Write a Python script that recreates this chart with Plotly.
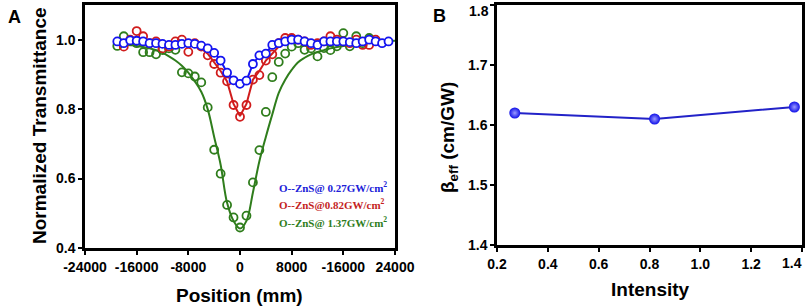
import plotly.graph_objects as go

# ---------------- Panel A data ----------------
blue_z = [-19000, -18000, -17000, -16000, -15000, -14000, -13000, -12000, -11000, -10000,
          -9000, -8000, -7000, -6000, -5000, -4000, -3000, -2000, -1000, 0,
          1000, 2000, 3000, 4000, 5000, 6000, 7000, 8000, 9000, 10000,
          11000, 12000, 13000, 14000, 15000, 16000, 17000, 18000, 19000, 20000,
          21000, 22000, 23000]
blue_t = [0.995, 0.99, 0.998, 0.997, 0.995, 0.99, 0.99, 0.988, 0.985, 0.985,
          0.988, 0.99, 0.988, 0.983, 0.975, 0.962, 0.94, 0.905, 0.883, 0.873,
          0.882, 0.93, 0.955, 0.96, 0.985, 0.99, 0.995, 1.0, 1.0, 0.995,
          0.99, 0.985, 0.995, 0.995, 0.995, 0.995, 0.993, 0.99, 0.995, 1.0,
          0.995, 0.99, 0.995]

red_z = [-18000, -17000, -16000, -15000, -14000, -13000, -12000, -11000, -10000, -9000,
         -8000, -7000, -6000, -5000, -4000, -3000, -2000, -1000, 0, 1000,
         2000, 3000, 4000, 5000, 6000, 7000, 8000, 9000, 10000, 11000,
         12000, 13000, 14000, 15000, 16000, 17000, 18000, 19000, 20000, 21000]
red_t = [0.98, 1.0, 1.025, 1.01, 0.99, 0.995, 0.975, 0.98, 0.995, 1.0,
         0.965, 0.99, 0.98, 0.955, 0.93, 0.905, 0.88, 0.812, 0.778, 0.812,
         0.885, 0.898, 0.94, 0.958, 0.99, 1.005, 1.005, 1.0, 0.995, 0.985,
         0.99, 0.995, 1.01, 1.0, 0.995, 0.99, 1.0, 0.985, 0.985, 1.0]
red_fit = [0.99, 0.995, 1.0, 1.0, 0.995, 0.993, 0.99, 0.99, 0.992, 0.99,
           0.985, 0.982, 0.975, 0.96, 0.935, 0.91, 0.88, 0.815, 0.78, 0.815,
           0.885, 0.91, 0.94, 0.96, 0.98, 0.99, 0.995, 0.997, 0.996, 0.995,
           0.995, 0.996, 0.998, 0.998, 0.997, 0.995, 0.995, 0.993, 0.993, 0.995]

green_z = [-19000, -18000, -17000, -16000, -15000, -14000, -13000, -12000, -11000, -10000,
           -9000, -8000, -7000, -6000, -5000, -4000, -3000, -2000, -1000, 0,
           1000, 2000, 3000, 4000, 5000, 6000, 7000, 8000, 9000, 10000,
           11000, 12000, 13000, 14000, 15000, 16000, 17000, 18000, 19000, 20000]
green_t = [0.982, 1.01, 0.995, 0.99, 0.964, 0.964, 0.958, 0.97, 0.975, 0.971,
           0.906, 0.903, 0.894, 0.877, 0.805, 0.683, 0.614, 0.524, 0.488, 0.459,
           0.493, 0.589, 0.682, 0.792, 0.892, 0.936, 0.96, 0.98, 0.99, 0.971,
           0.975, 0.952, 0.976, 0.97, 0.981, 1.019, 0.981, 1.01, 0.99, 1.005]

fit_z = [-19000, -18000, -17000, -16000, -15000, -14000, -13000, -12000, -11000, -10000,
         -9000, -8000, -7000, -6000, -5000, -4000, -3000, -2000, -1000, 0,
         1000, 2000, 3000, 4000, 5000, 6000, 7000, 8000, 9000, 10000,
         11000, 12000, 13000, 14000, 15000, 16000, 17000, 18000, 19000, 20000,
         21000, 22000, 23000, 24000]
green_fit = [0.988, 0.987, 0.985, 0.982, 0.979, 0.975, 0.97, 0.962, 0.952, 0.94,
             0.925, 0.905, 0.88, 0.85, 0.80, 0.72, 0.64, 0.53, 0.478, 0.456,
             0.478, 0.56, 0.65, 0.72, 0.785, 0.847, 0.885, 0.913, 0.935, 0.948,
             0.958, 0.965, 0.97, 0.975, 0.979, 0.982, 0.985, 0.988, 0.99, 0.992,
             0.994, 0.995, 0.996, 0.997]

x_tickvals = [-24000, -16000, -8000, 0, 8000, 16000, 24000]
x_ticktext = ["-24000", "-16000", "-8000", "0", "8000", "-16000", "24000"]
legend_labels = ["O--ZnS@ 0.27GW/cm<sup>2</sup>",
                 "O--ZnS@0.82GW/cm<sup>2</sup>",
                 "O--ZnS@ 1.37GW/cm<sup>2</sup>"]

# ---------------- Panel B data ----------------
intensity = [0.27, 0.82, 1.37]
beta_eff = [1.62, 1.61, 1.63]
b_xticks = [0.2, 0.4, 0.6, 0.8, 1.0, 1.2, 1.4]
b_xticktext = ["0.2", "0.4", "0.6", "0.8", "1.0", "1.2", ""]   # last one drawn as annotation (edge)
b_last_label = "1.4"
b_yticks = [1.4, 1.5, 1.6, 1.7, 1.8]
b_yticktext = ["1.4", "1.5", "1.6", "1.7", ""]                # top one drawn as annotation (edge)
b_top_label = "1.8"

BLUE = "#1414f0"
RED = "#d01c1c"
GREEN = "#2f7d1c"

fig = go.Figure()

# green
fig.add_trace(go.Scatter(x=fit_z, y=green_fit, mode="lines", line=dict(color=GREEN, width=2, shape="spline"),
                         xaxis="x", yaxis="y", showlegend=False))
fig.add_trace(go.Scatter(x=green_z, y=green_t, mode="markers",
                         marker=dict(symbol="circle-open", size=8, color=GREEN, line=dict(width=1.8)),
                         xaxis="x", yaxis="y", showlegend=False))
# red
fig.add_trace(go.Scatter(x=red_z, y=red_fit, mode="lines", line=dict(color=RED, width=2),
                         xaxis="x", yaxis="y", showlegend=False))
fig.add_trace(go.Scatter(x=red_z, y=red_t, mode="markers",
                         marker=dict(symbol="circle-open", size=8, color=RED, line=dict(width=1.8)),
                         xaxis="x", yaxis="y", showlegend=False))
# blue
fig.add_trace(go.Scatter(x=blue_z, y=blue_t, mode="lines+markers", line=dict(color=BLUE, width=2),
                         marker=dict(symbol="circle", size=8, color="white", line=dict(width=1.8, color=BLUE)),
                         xaxis="x", yaxis="y", showlegend=False))

# panel B
fig.add_trace(go.Scatter(x=intensity, y=beta_eff, mode="lines+markers",
                         line=dict(color="#2222c8", width=2),
                         marker=dict(size=11, color="#1010e8",
                                     gradient=dict(type="radial", color="#9a9aff"),
                                     line=dict(width=0)),
                         xaxis="x2", yaxis="y2", showlegend=False))

tickfont = dict(family="Liberation Sans, Arial", size=14, color="black", weight="bold")
axis_common = dict(showline=True, linecolor="black", linewidth=2.5, mirror=True,
                   ticks="outside", ticklen=4, tickwidth=2, tickcolor="black",
                   showgrid=False, zeroline=False, tickfont=tickfont, automargin=False)

fig.update_layout(
    width=809, height=307,
    margin=dict(l=0, r=0, t=0, b=0),
    paper_bgcolor="white", plot_bgcolor="white",
    xaxis=dict(domain=[85/809, 395/809], range=[-24000, 24000], tickvals=x_tickvals,
               ticktext=x_ticktext, anchor="y", **axis_common),
    yaxis=dict(domain=[59/307, 302/307], range=[0.4, 1.1], tickvals=[0.4, 0.6, 0.8, 1.0],
               tickformat=".1f", anchor="x", **axis_common),
    xaxis2=dict(domain=[497/809, 802/809], range=[0.2, 1.4], tickvals=b_xticks,
                ticktext=b_xticktext, anchor="y2", **axis_common),
    yaxis2=dict(domain=[62/307, 302/307], range=[1.4, 1.8], tickvals=b_yticks,
                ticktext=b_yticktext, anchor="x2", **axis_common),
)

title_font = dict(family="Liberation Sans, Arial", size=19, color="black", weight="bold")
ann = []
ann.append(dict(text="Position (mm)", x=240/809, y=1-295/307, xref="paper", yref="paper",
                showarrow=False, font=title_font, xanchor="center", yanchor="middle"))
ann.append(dict(text="Normalized Transmittance", x=40/809, y=1-126/307, xref="paper", yref="paper",
                showarrow=False, font=title_font, textangle=-90, xanchor="center", yanchor="middle"))
ann.append(dict(text="Intensity", x=650/809, y=1-289/307, xref="paper", yref="paper",
                showarrow=False, font=title_font, xanchor="center", yanchor="middle"))
ann.append(dict(text="β<sub>eff</sub> (cm/GW)", x=449/809, y=1-138/307, xref="paper", yref="paper",
                showarrow=False, font=title_font, textangle=-90, xanchor="center", yanchor="middle"))
ann.append(dict(text="A", x=14/809, y=1-17/307, xref="paper", yref="paper",
                showarrow=False, font=dict(family="Liberation Sans, Arial", size=18, color="black", weight="bold"),
                xanchor="center", yanchor="middle"))
ann.append(dict(text="B", x=439/809, y=1-16/307, xref="paper", yref="paper",
                showarrow=False, font=dict(family="Liberation Sans, Arial", size=18, color="black", weight="bold"),
                xanchor="center", yanchor="middle"))
# edge tick labels of panel B (kept inside the page)
ann.append(dict(text=b_last_label, x=b_xticks[-1], xref="x2", y=0, yref="y2 domain",
                yanchor="top", xanchor="right", xshift=2, yshift=-8, showarrow=False,
                font=tickfont))
ann.append(dict(text=b_top_label, x=0, xref="x2 domain", y=b_yticks[-1], yref="y2",
                yanchor="top", xanchor="right", xshift=-6, yshift=4, showarrow=False,
                font=tickfont))
leg_colors = ["#2020d8", "#c41e1e", "#2f7d1c"]
leg_y = [187, 204, 222]
for lab, c, yy in zip(legend_labels, leg_colors, leg_y):
    ann.append(dict(text=lab, x=277/809, y=1-yy/307, xref="paper", yref="paper", showarrow=False,
                    font=dict(family="Liberation Serif, Times New Roman", size=11, color=c, weight="bold"),
                    xanchor="left", yanchor="middle"))
fig.update_layout(annotations=ann)

fig.write_html("out.html", config={"displayModeBar": False},
               post_script="document.body.style.margin='0';document.body.style.overflow='hidden';")
